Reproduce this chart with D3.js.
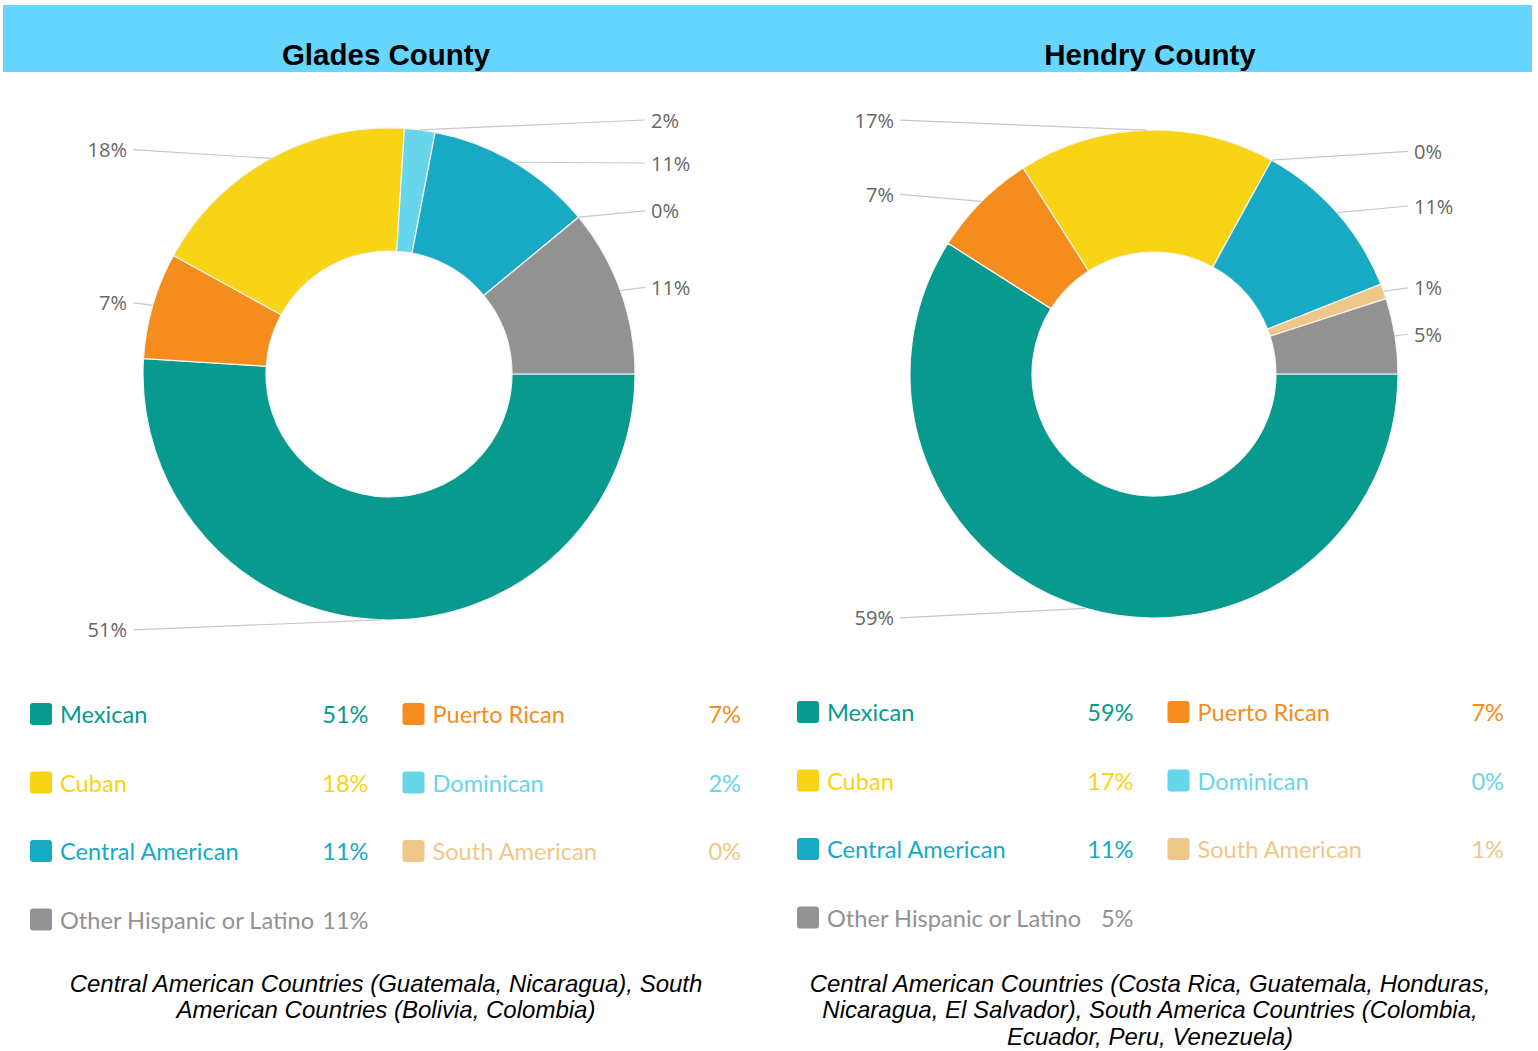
<!DOCTYPE html>
<html>
<head>
<meta charset="utf-8">
<script src="https://cdn.jsdelivr.net/npm/d3@7"></script>
<style>
html,body{margin:0;padding:0;background:#fff;}
svg{display:block;}
</style>
</head>
<body>
<svg id="chart" width="1538" height="1051"></svg>
<script>
const categories = ["Mexican","Puerto Rican","Cuban","Dominican","Central American","South American","Other Hispanic or Latino"];
const gladesValues = [51,7,18,2,11,0,11];
const hendryValues = [59,7,17,0,11,1,5];
const colors = ["#08998f","#f48d1e","#f8d415","#67d5ea","#18aac4","#eec78a","#929292"];
const titles = ["Glades County","Hendry County"];
const gladesNote = ["Central American Countries (Guatemala, Nicaragua), South","American Countries (Bolivia, Colombia)"];
const hendryNote = ["Central American Countries (Costa Rica, Guatemala, Honduras,","Nicaragua, El Salvador), South America Countries (Colombia,","Ecuador, Peru, Venezuela)"];

const svg = d3.select("#chart");

// header band
svg.append("rect").attr("x",3).attr("y",5).attr("width",1529).attr("height",67).attr("fill","#66d6fe");

const panels = [
  {title:titles[0], values:gladesValues, cx:389, cy:374, r:246, ri:123, titleX:386,
   legLeft:30, legRight:741, legY:714, note:gladesNote, noteX:386},
  {title:titles[1], values:hendryValues, cx:1154, cy:374, r:244, ri:122, titleX:1150,
   legLeft:797, legRight:1504, legY:712, note:hendryNote, noteX:1150}
];

panels.forEach(p => {
  svg.append("text").attr("x",p.titleX).attr("y",65).attr("text-anchor","middle")
    .attr("font-family","Liberation Sans, Arial, sans-serif").attr("font-weight","bold")
    .attr("font-size",29.5).attr("fill","#000").text(p.title);

  const data = categories.map((c,i)=>({cat:c, value:p.values[i], color:colors[i]}));
  const pie = d3.pie().sort(null).value(d=>d.value)
    .startAngle(Math.PI/2).endAngle(Math.PI/2 + 2*Math.PI);
  const arcs = pie(data);
  const arc = d3.arc().innerRadius(p.ri).outerRadius(p.r);
  const g = svg.append("g").attr("transform",`translate(${p.cx},${p.cy})`);
  g.selectAll("path").data(arcs).join("path")
    .attr("d",arc).attr("fill",d=>d.data.color)
    .attr("stroke","#f4f4f4").attr("stroke-width",1.2);

  // labels
  const labels = arcs.map(a=>{
    const m = (a.startAngle + a.endAngle)/2;
    const side = Math.sin(m) >= 0 ? 1 : -1;
    return {a, m, side, y: -(p.r+10)*Math.cos(m),
      ex: p.r*Math.sin(m), ey: -p.r*Math.cos(m),
      text: d3.format(".0f")(a.data.value)+"%"};
  });
  [1,-1].forEach(s=>{
    const L = labels.filter(l=>l.side===s).sort((a,b)=>a.y-b.y);
    for(let i=1;i<L.length;i++){ if(L[i].y < L[i-1].y + 43) L[i].y = L[i-1].y + 43; }
  });
  labels.forEach(l=>{
    g.append("polyline")
      .attr("points",`${l.ex},${l.ey} ${l.side*(p.r+10)},${l.y}`)
      .attr("fill","none").attr("stroke","#c8c8c8").attr("stroke-width",1.2);
    g.append("text").attr("x",l.side*(p.r+16)).attr("y",l.y)
      .attr("text-anchor",l.side>0?"start":"end").attr("dominant-baseline","central")
      .attr("font-family","Open Sans, sans-serif").attr("font-size",20).attr("fill","#666")
      .text(l.text);
  });

  // legend
  const gap = 34;
  const colW = (p.legRight - p.legLeft - gap)/2;
  data.forEach((d,i)=>{
    const col = i%2, row = Math.floor(i/2);
    const x0 = p.legLeft + col*(colW+gap);
    const y = p.legY + row*68.5;
    svg.append("rect").attr("x",x0).attr("y",y-11).attr("width",22).attr("height",22)
      .attr("rx",3).attr("fill",d.color);
    svg.append("text").attr("x",x0+30).attr("y",y).attr("dominant-baseline","central")
      .attr("font-family","Lato, sans-serif").attr("font-size",23.6).attr("fill",d.color).text(d.cat);
    svg.append("text").attr("x",x0+colW).attr("y",y).attr("dominant-baseline","central")
      .attr("text-anchor","end")
      .attr("font-family","Lato, sans-serif").attr("font-size",23.6).attr("fill",d.color)
      .text(d3.format(".0f")(d.value)+"%");
  });

  // note
  p.note.forEach((t,i)=>{
    svg.append("text").attr("x",p.noteX).attr("y",983 + i*26.5).attr("dominant-baseline","central")
      .attr("text-anchor","middle").attr("font-family","Liberation Sans, Arial, sans-serif")
      .attr("font-style","italic").attr("font-size",24).attr("fill","#000").text(t);
  });
});
</script>
</body>
</html>
